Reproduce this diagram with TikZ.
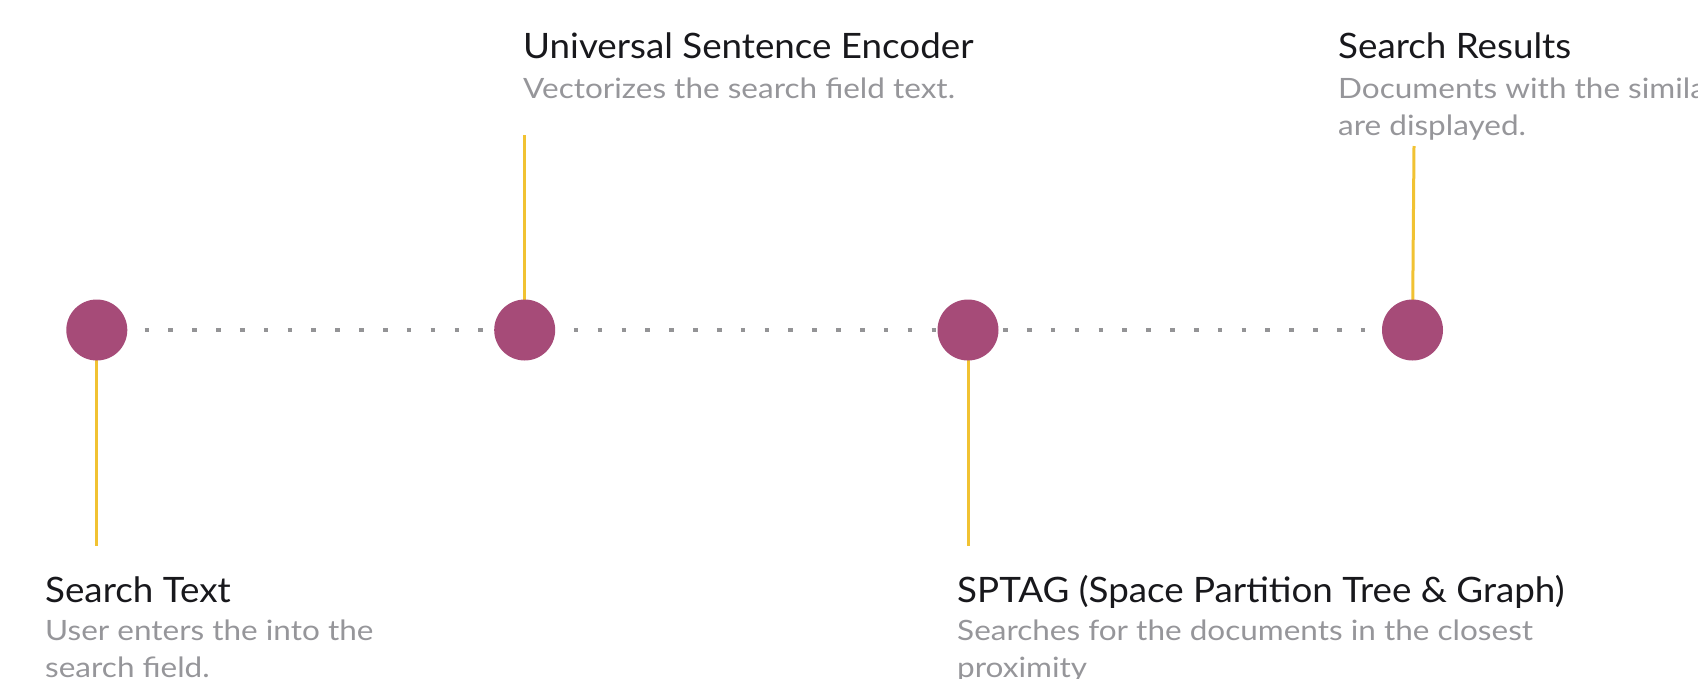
\documentclass[tikz,border=0pt]{standalone}
\usepackage{fontspec}
\setmainfont{Lato}
\usetikzlibrary{backgrounds}
\definecolor{plum}{RGB}{166,75,120}
\definecolor{stemyellow}{RGB}{241,194,50}
\definecolor{dotgray}{RGB}{148,148,150}
\definecolor{titleink}{RGB}{24,24,28}
\definecolor{descink}{RGB}{150,150,154}
\tikzset{
  stepdot/.style={circle, fill=plum, minimum size=61pt, inner sep=0pt},
  stem/.style={draw=stemyellow, line width=3pt},
  track/.style={draw=dotgray, line width=4.6pt, dash pattern=on 4.6pt off 19.25pt},
  title/.style={anchor=base west, inner sep=0pt, text=titleink, font=\fontsize{35}{40}\selectfont},
  desc/.style={anchor=base west, inner sep=0pt, text=descink, font=\fontsize{28}{37}\selectfont},
}
% headings and notes are set slightly wide
\newcommand{\headtext}[1]{\scalebox{1.05}[1]{#1}}
\newcommand{\notetext}[1]{\scalebox{1.125}[1]{\parbox[t]{700pt}{\raggedright #1}}}
\begin{document}
\begin{tikzpicture}[x=1pt, y=-1pt]
  \useasboundingbox (0,0) rectangle (1698,678);
  \clip (0,0) rectangle (1698,678);

  % timeline stops
  \node[stepdot] (c1) at (96.8,330) {};
  \node[stepdot] (c2) at (524.7,330) {};
  \node[stepdot] (c3) at (968,330) {};
  \node[stepdot] (c4) at (1412.5,330) {};

  % free ends of the yellow stems
  \coordinate (e1) at (96.8,546);
  \coordinate (e2) at (524.7,135);
  \coordinate (e3) at (968,546);
  \coordinate (e4) at (1414,146);

  \begin{scope}[on background layer]
    \draw[track] (c1.center) -- (c4.center);
    \draw[stem] (c1.center) -- (e1);
    \draw[stem] (c2.center) -- (e2);
    \draw[stem] (c3.center) -- (e3);
    \draw[stem] (c4.center) -- (e4);
  \end{scope}

  % labels
  \node[title] (t1) at (45,602) {\headtext{Search Text}};
  \node[desc]  (d1) at (45,640) {\notetext{User enters the into the\\search field.}};

  \node[title] (t2) at (523,58) {\headtext{Universal Sentence Encoder}};
  \node[desc]  (d2) at (523,98.5) {\notetext{Vectorizes the search field text.}};

  \node[title] (t3) at (957,602) {\headtext{SPTAG (Space Partition Tree \& Graph)}};
  \node[desc]  (d3) at (957,640) {\notetext{Searches for the documents in the closest\\proximity}};

  \node[title] (t4) at (1338,58) {\headtext{Search Results}};
  \node[desc]  (d4) at (1338,98.5) {\notetext{Documents with the similar\\are displayed.}};
\end{tikzpicture}
\end{document}
